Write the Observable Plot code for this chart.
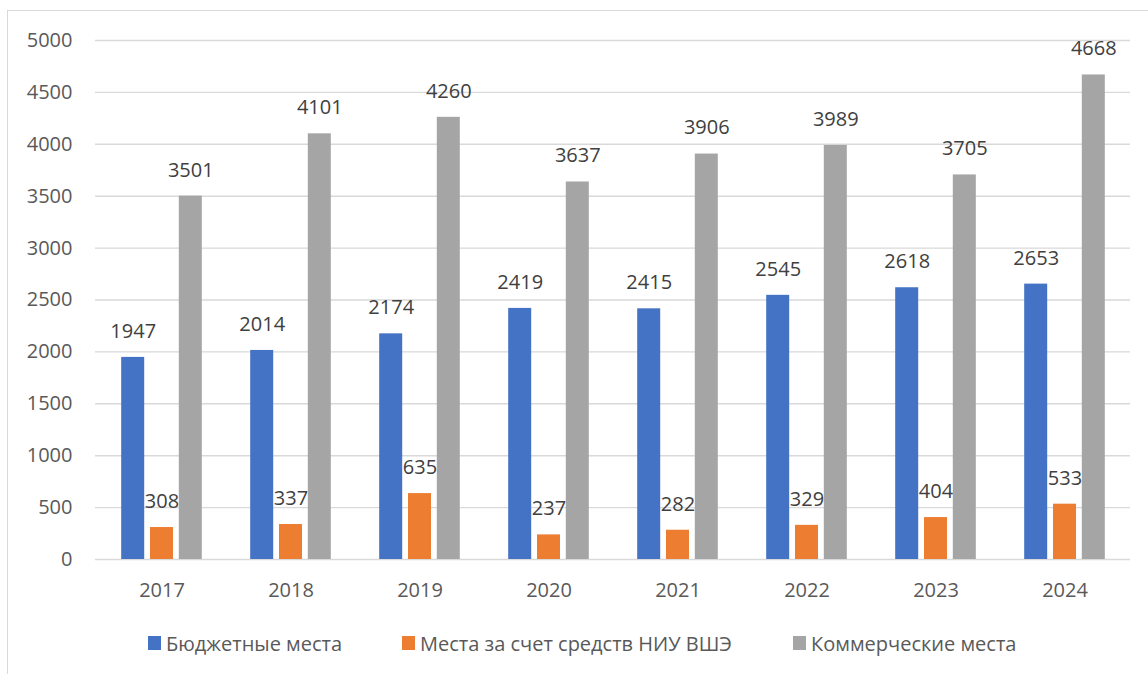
<!DOCTYPE html>
<html>
<head>
<meta charset="utf-8">
<script src="https://cdn.jsdelivr.net/npm/d3@7"></script>
<script src="https://cdn.jsdelivr.net/npm/@observablehq/plot@0.6"></script>
<style>
  html, body { margin: 0; padding: 0; background: #fff; }
  #wrap { position: relative; width: 1148px; height: 674px; overflow: hidden; font-family: "Open Sans", sans-serif; }
  #frame { position: absolute; left: 7px; top: 10px; width: 1200px; height: 700px; border-left: 1.5px solid #d9d9d9; border-top: 1.5px solid #d9d9d9; }
  #chart { position: absolute; left: 0; top: 0; }
  #legend { position: absolute; top: 629px; left: 0; width: 1148px; height: 30px; }
  .li { position: absolute; top: 0; display: flex; align-items: center; height: 28px; font-size: 20px; color: #595959; white-space: nowrap; }
  .sw { width: 13px; height: 14px; margin-right: 5px; }
</style>
</head>
<body>
<div id="wrap">
  <div id="frame"></div>
  <div id="chart"></div>
  <div id="legend"></div>
</div>
<script>
const years = ["2017", "2018", "2019", "2020", "2021", "2022", "2023", "2024"];
const seriesNames = ["Бюджетные места", "Места за счет средств НИУ ВШЭ", "Коммерческие места"];
const budget = [1947, 2014, 2174, 2419, 2415, 2545, 2618, 2653];
const hse = [308, 337, 635, 237, 282, 329, 404, 533];
const commercial = [3501, 4101, 4260, 3637, 3906, 3989, 3705, 4668];
const yTicks = [0, 500, 1000, 1500, 2000, 2500, 3000, 3500, 4000, 4500, 5000];
const colors = ["#4472C4", "#ED7D31", "#A5A5A5"];
const legendX = [148, 402, 793];

const seriesValues = [budget, hse, commercial];
const offsets = [-28.8, 0, 28.8];

const marks = [
  Plot.ruleY(yTicks, {stroke: "#d9d9d9", strokeWidth: 1.4})
];
seriesValues.forEach((vals, i) => {
  const rows = years.map((y, j) => ({year: y, value: vals[j]}));
  marks.push(Plot.barY(rows, {x: "year", y: "value", fill: colors[i], dx: offsets[i]}));
  marks.push(Plot.text(rows, {x: "year", y: "value", text: d => String(d.value), dx: offsets[i], dy: -26,
    fill: "#404040", fontSize: 20, textAnchor: "middle", lineAnchor: "middle"}));
});

const chart = Plot.plot({
  width: 1148,
  height: 620,
  marginLeft: 95,
  marginRight: 18,
  marginTop: 40,
  marginBottom: 61,
  style: {fontFamily: "Open Sans, sans-serif", fontSize: "20px", color: "#595959", background: "transparent", overflow: "visible"},
  x: {domain: years, paddingInner: 0.823, paddingOuter: 0.4115, label: null, tickSize: 0, tickPadding: 23},
  y: {domain: [0, 5000], ticks: yTicks, tickFormat: d => String(d), label: null, tickSize: 0, tickPadding: 23},
  marks
});
document.getElementById("chart").appendChild(chart);

const legend = document.getElementById("legend");
seriesNames.forEach((name, i) => {
  const item = document.createElement("div");
  item.className = "li";
  item.style.left = legendX[i] + "px";
  const sw = document.createElement("span");
  sw.className = "sw";
  sw.style.background = colors[i];
  const tx = document.createElement("span");
  tx.textContent = name;
  item.appendChild(sw);
  item.appendChild(tx);
  legend.appendChild(item);
});
</script>
</body>
</html>
